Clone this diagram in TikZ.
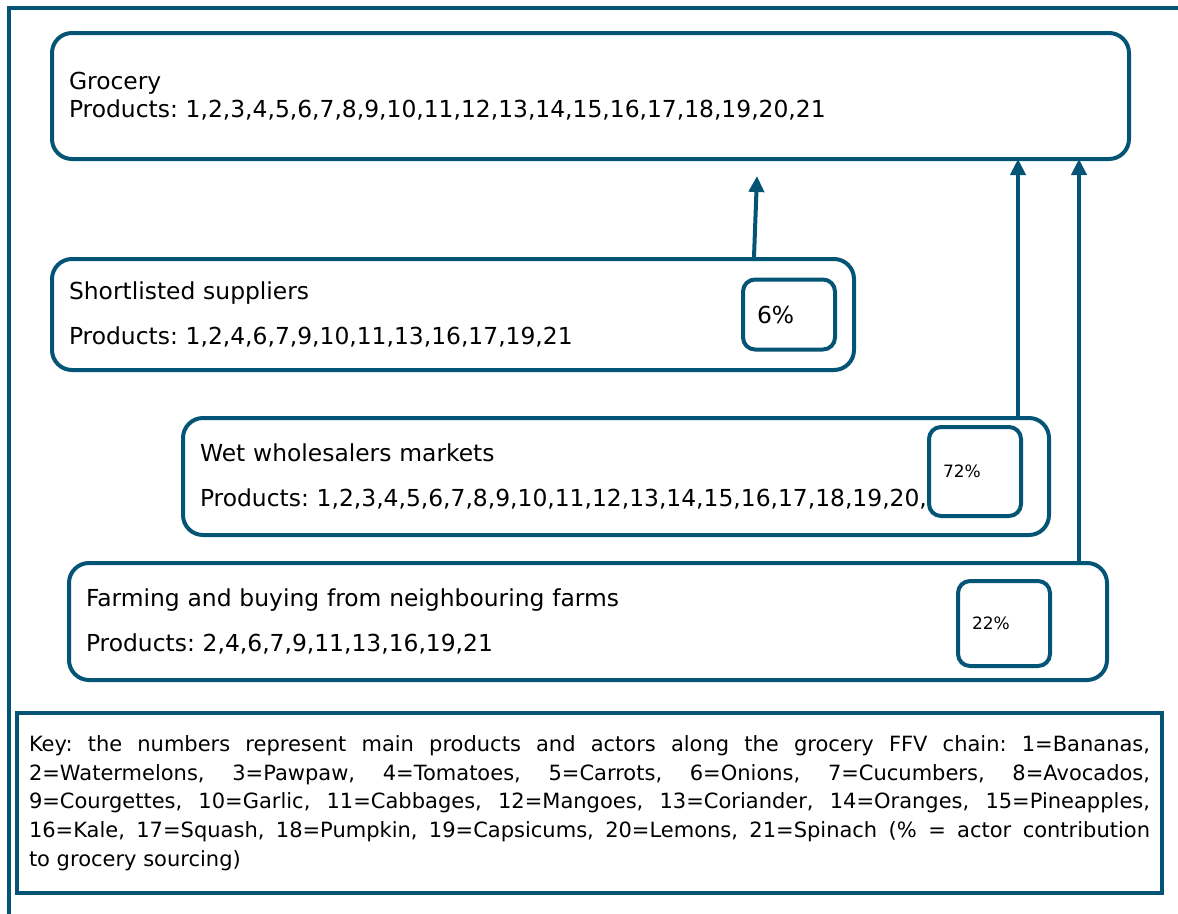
\documentclass[tikz,border=0pt]{standalone}
\usepackage{fontspec}
\setmainfont{DejaVu Sans}
\usepackage{xcolor}
\usepackage{tikz}
\usetikzlibrary{arrows.meta,positioning}
\definecolor{chainblue}{RGB}{4,84,117}
\frenchspacing

\begin{document}
\begin{tikzpicture}[
  x=1pt, y=-1pt,
  box/.style={draw=chainblue, line width=4pt, rounded corners=20pt, anchor=north west, inner xsep=17pt, inner ysep=0pt, align=left, font=\fontsize{23.4}{45}\selectfont},
  pct/.style={draw=chainblue, fill=white, line width=4pt, rounded corners=12pt, inner xsep=14pt, inner ysep=0pt, text width=64pt, align=left},
  arr/.style={-{Triangle[length=16pt,width=15pt]}, line width=4pt, draw=chainblue}
]
  \useasboundingbox (0,0) rectangle (1178,913);
  \draw[chainblue, line width=4pt] (1180,8) -- (9,8) -- (9,915);

  \node[box, text width=1043pt, minimum height=126pt, font=\fontsize{23.4}{28}\selectfont] (gro) at (50,31) {Grocery\\Products: 1,2,3,4,5,6,7,8,9,10,11,12,13,14,15,16,17,18,19,20,21};
  \node[box, text width=768pt, minimum height=111pt] (sls) at (50,257) {Shortlisted suppliers\\Products: 1,2,4,6,7,9,10,11,13,16,17,19,21};
  \node[box, text width=832pt, minimum height=117pt] (wet) at (181,416) {Wet wholesalers markets\\Products: 1,2,3,4,5,6,7,8,9,10,11,12,13,14,15,16,17,18,19,20,21};
  \node[box, text width=1004pt, minimum height=117pt] (farm) at (67,561) {Farming and buying from neighbouring farms\\Products: 2,4,6,7,9,11,13,16,19,21};

  \node[pct, minimum height=70pt, font=\fontsize{23.4}{28}\selectfont, left=19pt of sls.east] (p6) {6\%};
  \node[pct, minimum height=89pt, font=\fontsize{17}{20}\selectfont, left=28pt of wet.east, yshift=5pt] (p72) {72\%};
  \node[pct, minimum height=85pt, font=\fontsize{17}{20}\selectfont, left=57pt of farm.east, yshift=-2pt] (p22) {22\%};

  \coordinate (tip) at (757,176);
  \draw[arr] ([xshift=301pt]sls.north) -- (tip);
  \draw[arr] ([xshift=402pt]wet.north) -- ([xshift=402pt,yshift=2pt]wet.north |- gro.south);
  \draw[arr] ([xshift=491pt]farm.north) -- ([xshift=491pt,yshift=2pt]farm.north |- gro.south);

  \node[draw=chainblue, line width=4pt, anchor=north west, inner xsep=12pt, inner ysep=0pt, text width=1121pt, minimum height=180pt, align=justify, font=\fontsize{21}{28.75}\selectfont] (key) at (15,711) {Key: the numbers represent main products and actors along the grocery FFV chain: 1=Bananas,\linebreak 2=Watermelons, 3=Pawpaw, 4=Tomatoes, 5=Carrots, 6=Onions, 7=Cucumbers, 8=Avocados,\linebreak 9=Courgettes, 10=Garlic, 11=Cabbages, 12=Mangoes, 13=Coriander, 14=Oranges, 15=Pineapples,\linebreak 16=Kale, 17=Squash, 18=Pumpkin, 19=Capsicums, 20=Lemons, 21=Spinach (\% = actor contribution\linebreak to grocery sourcing)};
\end{tikzpicture}
\end{document}
